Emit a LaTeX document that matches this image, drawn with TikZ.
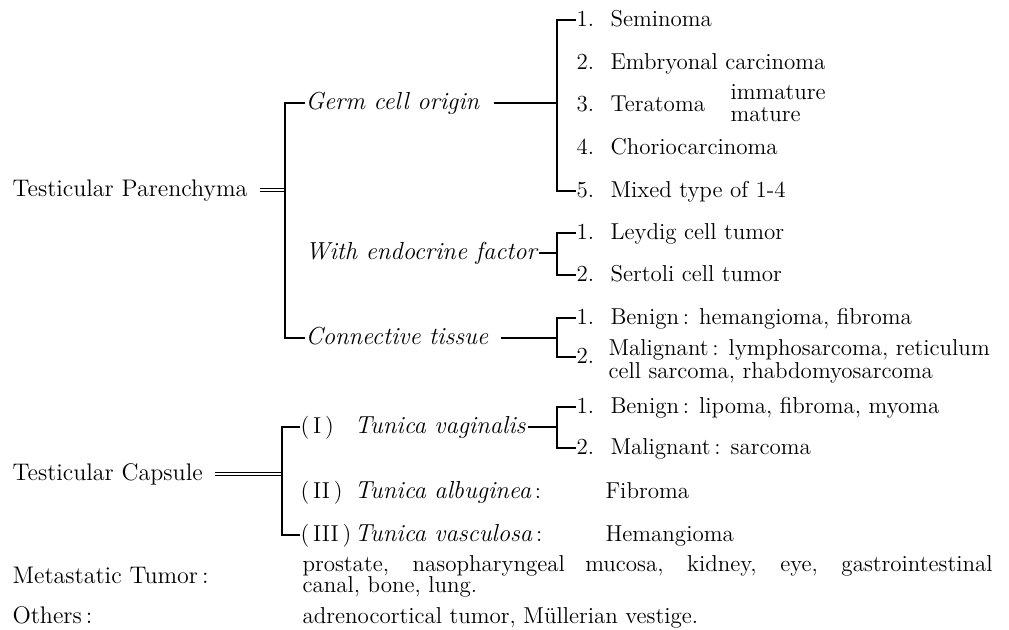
\documentclass[tikz,border=0pt]{standalone}
\usepackage{fontspec}
\usetikzlibrary{positioning}

\newcommand{\nr}[1]{\makebox[17pt][l]{#1.}}
\newcommand{\rn}[1]{\makebox[27pt][l]{(\,#1\,)}}
\newcommand{\tun}[1]{{\fontsize{12.3}{14}\selectfont\itshape #1}}

\tikzset{
  lbl/.style={inner sep=0pt, anchor=west, text height=1.55ex, text depth=0pt,
    font=\fontsize{11.5}{13}\selectfont},
  lft/.style={lbl, font=\fontsize{12}{14}\selectfont},
  sub/.style={lbl, font=\fontsize{12.3}{14}\selectfont\itshape},
  eqline/.style={double, double distance=1.3pt, line width=0.5pt},
}

\begin{document}
\begin{tikzpicture}[x=0.5pt,y=-0.5pt,line width=0.55pt]
  \useasboundingbox (0,0) rectangle (1009,630);

  % left column
  \node[lft] (par) at (12,190) {Testicular Parenchyma};
  \node[lft] (cap) at (12,474) {Testicular Capsule};
  \node[lft] (met) at (12,577) {Metastatic Tumor\,:};
  \node[lft] (oth) at (12,617) {Others\,:};

  % parenchyma
  \coordinate (pb) at (285,0);
  \coordinate (gb) at (557,0);
  \node[sub] (germ) at (305,103) {Germ cell origin};
  \node[sub] (endo) at (305,253) {With endocrine factor};
  \node[sub] (conn) at (305,338) {Connective tissue};
  \draw[eqline] ([xshift=6pt]par.east) -- (par.east -| pb);
  \draw (germ.west) -- (germ.west -| pb) -- (conn.west -| pb) -- (conn.west);

  \node[lbl] (g1) at (576,20) {\nr{1}Seminoma};
  \node[lbl] (g2) at (576,63) {\nr{2}Embryonal carcinoma};
  \node[lbl] (g3) at (576,105) {\nr{3}Teratoma};
  \node[lbl] (imm) at (730,93) {immature};
  \node[lbl] (mat) at (730,115) {mature};
  \node[lbl] (g4) at (576,148) {\nr{4}Choriocarcinoma};
  \node[lbl] (g5) at (576,191) {\nr{5}Mixed type of 1-4};
  \draw ([xshift=7pt]germ.east) -- (germ.east -| gb);
  \draw (g1.west) -- (g1.west -| gb) -- (g5.west -| gb) -- (g5.west);

  \node[lbl] (e1) at (576,233) {\nr{1}Leydig cell tumor};
  \node[lbl] (e2) at (576,275) {\nr{2}Sertoli cell tumor};
  \draw ([xshift=1pt]endo.east) -- (endo.east -| gb);
  \draw (e1.west) -- (e1.west -| gb) -- (e2.west -| gb) -- (e2.west);

  \node[lbl] (c1) at (576,318) {\nr{1}Benign\,: hemangioma, fibroma};
  \node[lbl] (c2) at (576,357) {2.};
  \node[lbl] (c2a) at (608,349) {Malignant\,: lymphosarcoma, reticulum};
  \node[lbl] (c2b) at (608,372) {cell sarcoma, rhabdomyosarcoma};
  \draw ([xshift=6pt]conn.east) -- (conn.east -| gb);
  \draw (c1.west) -- (c1.west -| gb) -- (c2.west -| gb) -- (c2.west);

  % capsule
  \coordinate (cb) at (282,0);
  \node[lbl] (vag) at (300,427) {\rn{I}\tun{Tunica vaginalis}};
  \node[lbl] (alb) at (300,492) {\rn{II}\tun{Tunica albuginea}\,:};
  \node[lbl] (vas) at (300,535) {\rn{III}\tun{Tunica vasculosa}\,:};
  \draw[eqline] ([xshift=6pt]cap.east) -- (cap.east -| cb);
  \draw (vag.west) -- (vag.west -| cb) -- (vas.west -| cb) -- (vas.west);

  \node[lbl] (v1) at (576,407) {\nr{1}Benign\,: lipoma, fibroma, myoma};
  \node[lbl] (v2) at (576,448) {\nr{2}Malignant\,: sarcoma};
  \draw ([xshift=1pt]vag.east) -- (vag.east -| gb);
  \draw (v1.west) -- (v1.west -| gb) -- (v2.west -| gb) -- (v2.west);

  \node[lbl] (fib) at (605,492) {Fibroma};
  \node[lbl] (hem) at (605,535) {Hemangioma};

  % metastatic, others
  \node[lbl] (met1) at (302,565)
    {\makebox[345pt][s]{prostate, nasopharyngeal mucosa, kidney, eye, gastrointestinal}};
  \node[lbl] (met2) at (302,586) {canal, bone, lung.};
  \node[lbl] (oth1) at (302,617) {adrenocortical tumor, Müllerian vestige.};
\end{tikzpicture}
\end{document}
